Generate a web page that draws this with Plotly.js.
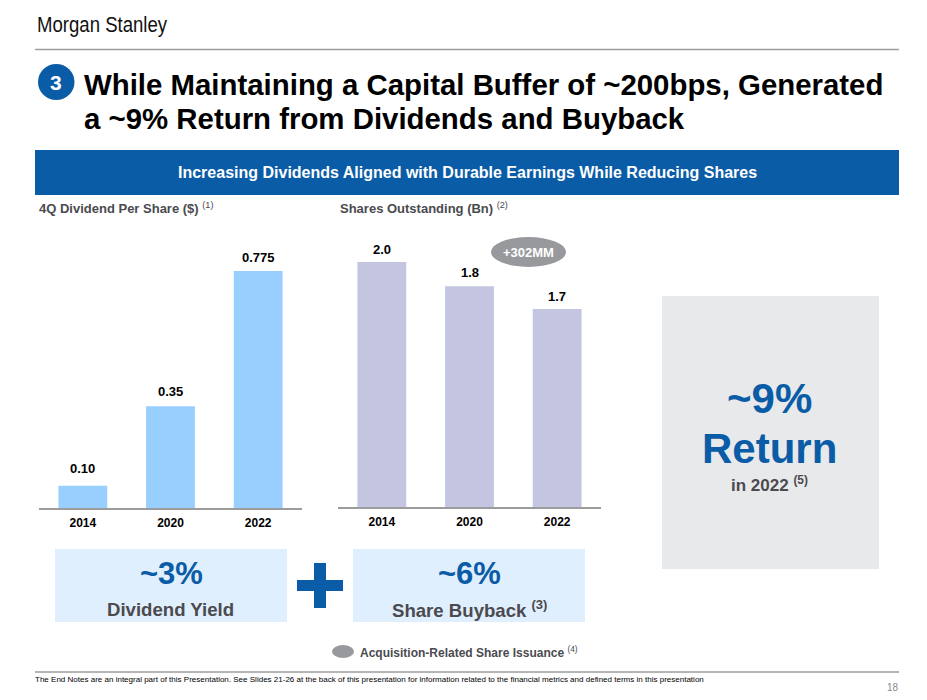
<!DOCTYPE html>
<html><head><meta charset="utf-8">
<script src="https://cdn.plot.ly/plotly-3.0.1.min.js"></script>
<style>html,body{margin:0;padding:0;background:#fff}#c{width:927px;height:700px}</style>
</head><body><div id="c"></div>
<script>
const categories = ["2014","2020","2022"];
const dividendValues = [0.10,0.35,0.775];
const dividendLabels = ["0.10","0.35","0.775"];
const shareValues = [2.0,1.82,1.65];
const shareLabels = ["2.0","1.8","1.7"];
const W=927,H=700;
const FONT='"Liberation Sans", Arial, sans-serif';
const BLUE='#0B5CA6',GRAY='#4A4A4F',LINE='#9C9C9C';
const px=x=>x/W, py=y=>1-y/H;
function txt(x,y,text,size,color,anchor){
  return {xref:'paper',yref:'paper',x:px(x),y:py(y),text:text,showarrow:false,
    xanchor:anchor||'center',yanchor:'middle',font:{family:FONT,size:size,color:color},borderpad:0,borderwidth:0};
}
function rect(x0,y0,x1,y1,fill){
  return {type:'rect',xref:'paper',yref:'paper',x0:px(x0),x1:px(x1),y0:py(y0),y1:py(y1),fillcolor:fill,line:{width:0},layer:'below'};
}
function oval(x0,y0,x1,y1,fill){
  return {type:'circle',xref:'paper',yref:'paper',x0:px(x0),x1:px(x1),y0:py(y0),y1:py(y1),fillcolor:fill,line:{width:0},layer:'below'};
}
function hline(x0,x1,y){
  return {type:'line',xref:'paper',yref:'paper',x0:px(x0),x1:px(x1),y0:py(y),y1:py(y),line:{color:LINE,width:1.5},layer:'below'};
}
function barLabels(values,labels,xa,ya,shifts){
  return values.map((v,i)=>({xref:xa,yref:ya,x:i,y:v,text:'<b>'+labels[i]+'</b>',showarrow:false,
    yanchor:'bottom',yshift:shifts[i],font:{family:FONT,size:13,color:'#000'}}));
}
const traces=[
 {type:'bar',x:categories,y:dividendValues,xaxis:'x',yaxis:'y',width:0.557,marker:{color:'#99CFFF'},hoverinfo:'skip'},
 {type:'bar',x:categories,y:shareValues,xaxis:'x2',yaxis:'y2',width:0.557,marker:{color:'#C4C5E1'},hoverinfo:'skip'}
];
function xax(x0,x1,anchor){
  return {domain:[px(x0),px(x1)],anchor:anchor,type:'category',range:[-0.5,2.5],showgrid:false,zeroline:false,
    showline:true,linecolor:LINE,linewidth:1.5,ticks:'',ticklen:0,ticklabelstandoff:3,
    tickfont:{family:FONT,size:12,color:'#000',weight:'bold'},fixedrange:true};
}
function yax(y0,y1,range,anchor){
  return {domain:[py(y0),py(y1)],anchor:anchor,range:range,visible:false,fixedrange:true};
}
const layout={
 width:W,height:H,margin:{l:0,r:0,t:0,b:0},paper_bgcolor:'#fff',plot_bgcolor:'rgba(0,0,0,0)',showlegend:false,
 font:{family:FONT},
 xaxis:xax(39,302,'y'),
 yaxis:yax(508,200,[0.03,0.03+308/318],'x'),
 xaxis2:xax(338,601,'y2'),
 yaxis2:yax(507,200,[0.176,0.176+307/134.3],'x2'),
 shapes:[
  hline(35,899,49.5),
  hline(35,899,672),
  rect(35,150,899,195,BLUE),
  oval(38,64,74.5,100,BLUE),
  rect(55,549,287,622,'#E0EFFE'),
  rect(353,549,585,622,'#E0EFFE'),
  rect(314,563,326,608,BLUE),
  rect(297,580,343,591,BLUE),
  rect(662,296,879,569,'#E8E9EB'),
  oval(491,237,566,267,'#98999D'),
  oval(332,645,354,658,'#98999D')
 ],
 annotations:[
  txt(25,25,'Morgan Stanley',22,'#111','left'),
  txt(56,83,'<b>3</b>',21,'#fff'),
  txt(84,84,'<b>While Maintaining a Capital Buffer of ~200bps, Generated</b>',29.4,'#000','left'),
  txt(84,118,'<b>a ~9% Return from Dividends and Buyback</b>',29.4,'#000','left'),
  txt(467,173,'<b>Increasing Dividends Aligned with Durable Earnings While Reducing Shares</b>',16,'#fff'),
  txt(39,208,'<b>4Q Dividend Per Share ($)</b> <sup>(1)</sup>',13,GRAY,'left'),
  txt(340,208,'<b>Shares Outstanding (Bn)</b> <sup>(2)</sup>',13,GRAY,'left'),
  txt(528.5,252,'<b>+302MM</b>',13,'#fff'),
  txt(171,573,'<b>~3%</b>',31,BLUE),
  txt(170,609,'<b>Dividend Yield</b>',18.6,GRAY),
  txt(469,573,'<b>~6%</b>',31,BLUE),
  txt(469,609,'<b>Share Buyback</b> <sup><b>(3)</b></sup>',18.6,GRAY),
  txt(769,399,'<b>~9%</b>',42,BLUE),
  txt(769,448,'<b>Return</b>',42,BLUE),
  txt(769,484,'<b>in 2022</b> <sup><b>(5)</b></sup>',17,GRAY),
  txt(360,652,'<b>Acquisition-Related Share Issuance</b> <sup>(4)</sup>',12,GRAY,'left'),
  txt(35,679,'The End Notes are an integral part of this Presentation. See Slides 21-26 at the back of this presentation for information related to the financial metrics and defined terms in this presentation',8.03,'#000','left'),
  txt(893,687,'18',10,'#8A8A8A'),
  ...barLabels(dividendValues,dividendLabels,'x','y',[8,5,4]),
  ...barLabels(shareValues,shareLabels,'x2','y2',[3,4,3])
 ]
};
Plotly.newPlot('c',traces,layout,{displayModeBar:false,staticPlot:true}).then(gd=>{
  // The logo lettering is condensed: squeeze its real text to the reference's width.
  const logo=[...gd.querySelectorAll('.annotation-text')].find(t=>t.textContent==='Morgan Stanley');
  if(logo){logo.setAttribute('textLength','130');logo.setAttribute('lengthAdjust','spacingAndGlyphs');}
});
</script></body></html>
